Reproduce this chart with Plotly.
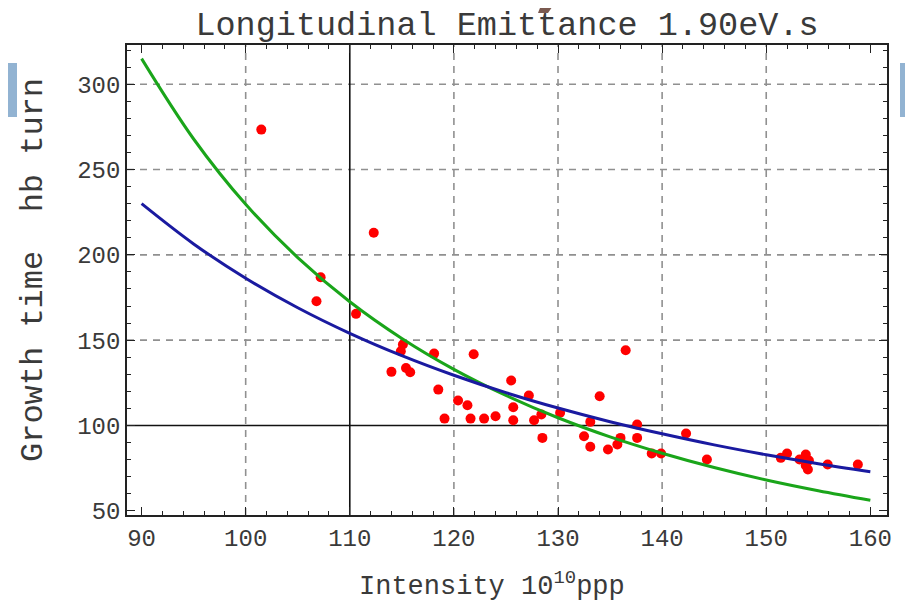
import plotly.graph_objects as go

# Measured data points (intensity, growth time)
intensity = [101.5, 106.8, 107.2, 110.6, 112.3, 114.0, 114.9, 115.1, 115.4, 115.8,
             118.1, 118.5, 119.1, 120.4, 121.3, 121.6, 121.9, 122.9, 124.0, 125.5,
             125.7, 125.7, 127.2, 127.7, 128.4, 128.5, 130.2, 132.5, 133.1, 133.1,
             134.0, 134.8, 135.7, 136.0, 136.5, 137.6, 137.6, 139.0, 139.9, 142.3,
             144.3, 151.4, 152.0, 153.2, 153.8, 153.8, 154.0, 154.1, 155.9, 158.8]
growth = [273.4, 172.8, 186.9, 165.4, 212.9, 131.4, 143.5, 147.4, 133.7, 131.2,
          142.1, 121.0, 104.0, 114.6, 111.8, 104.0, 141.7, 104.0, 105.4, 126.3,
          110.7, 103.0, 117.5, 103.0, 106.4, 92.7, 107.4, 93.7, 102.1, 87.5,
          117.1, 85.9, 88.8, 92.7, 144.1, 100.5, 92.7, 83.5, 83.5, 95.3,
          80.0, 81.0, 83.5, 80.0, 82.9, 76.5, 74.2, 79.4, 77.1, 77.1]

# Fitted curves
curve_x = [90, 95, 100, 105, 110, 115, 120, 125, 130, 135, 140, 145, 150, 155, 160]
green_fit = [315.0, 267.9, 229.6, 198.4, 172.5, 151.0, 132.9, 117.6, 104.5, 93.3,
             83.7, 75.3, 68.0, 61.7, 56.1]
blue_fit = [230.0, 206.4, 186.3, 169.0, 154.0, 140.9, 129.4, 119.2, 110.2, 102.2,
            95.1, 88.6, 82.8, 77.5, 72.8]

x_grid = [100, 120, 130, 140, 150]
y_grid = [150, 200, 250, 300]
x_axis_at = 110
y_axis_at = 100

title_text = "Longitudinal Emittance 1.90eV.s"
x_title = "Intensity 10<sup>10</sup>ppp"
y_title = "Growth time  hb turn"

MONO = "Liberation Mono"
TXT = "#3a3a3a"

fig = go.Figure()
fig.add_trace(go.Scatter(x=intensity, y=growth, mode="markers",
                         marker=dict(color="#ff0000", size=10), showlegend=False))
fig.add_trace(go.Scatter(x=curve_x, y=green_fit, mode="lines", line_shape="spline",
                         line=dict(color="#1aa51a", width=3), showlegend=False))
fig.add_trace(go.Scatter(x=curve_x, y=blue_fit, mode="lines", line_shape="spline",
                         line=dict(color="#1a1aa0", width=3), showlegend=False))

for gx in x_grid:
    fig.add_shape(type="line", xref="x", yref="paper", x0=gx, x1=gx, y0=0, y1=1,
                  line=dict(color="#909090", width=1.6, dash="7px,6px"), layer="below")
for gy in y_grid:
    fig.add_shape(type="line", xref="paper", yref="y", x0=0, x1=1, y0=gy, y1=gy,
                  line=dict(color="#909090", width=1.6, dash="7px,6px"), layer="below")
fig.add_shape(type="line", xref="x", yref="paper", x0=x_axis_at, x1=x_axis_at, y0=0, y1=1,
              line=dict(color="#111111", width=1.6), layer="below")
fig.add_shape(type="line", xref="paper", yref="y", x0=0, x1=1, y0=y_axis_at, y1=y_axis_at,
              line=dict(color="#111111", width=1.6), layer="below")

# helpers: page pixel -> paper coordinate (plot area on page: 127..887 x 45..515 px)
def px_x(p):
    return (p - 127) / 760.0

def px_y(p):
    return (515 - p) / 470.0

# decorative slide fragments around the chart
fig.add_shape(type="rect", xref="paper", yref="paper", x0=px_x(0), x1=px_x(17),
              y0=px_y(117), y1=px_y(63), fillcolor="#92b3d2", line_width=0)
fig.add_shape(type="rect", xref="paper", yref="paper", x0=px_x(900), x1=px_x(913),
              y0=px_y(117), y1=px_y(63), fillcolor="#92b3d2", line_width=0)
fig.add_shape(type="path", xref="paper", yref="paper",
              path="M %f %f L %f %f L %f %f L %f %f Z" % (
                  px_x(543), px_y(0), px_x(557), px_y(0), px_x(548), px_y(13), px_x(538), px_y(13)),
              fillcolor="#7b5a50", line_width=0)

# axis titles as annotations
fig.add_annotation(text=x_title, xref="paper", yref="paper", x=px_x(492), y=px_y(584),
                   xanchor="center", yanchor="middle", showarrow=False,
                   font=dict(family=MONO, size=27, color=TXT))
fig.add_annotation(text=y_title, xref="paper", yref="paper", x=px_x(33), y=px_y(270),
                   xanchor="center", yanchor="middle", showarrow=False, textangle=-90,
                   font=dict(family=MONO, size=32, color=TXT))

axis_common = dict(showgrid=False, zeroline=False, showline=True, linecolor="#222222",
                   linewidth=1.5, mirror="allticks", ticks="inside", ticklen=8,
                   tickwidth=1.3, tickcolor="#222222", automargin=False,
                   tickfont=dict(family=MONO, size=24, color=TXT))

fig.update_xaxes(range=[88.6, 161.6], tick0=90, dtick=10,
                 minor=dict(dtick=2, ticks="inside", ticklen=4, tickcolor="#222222"),
                 **axis_common)
fig.update_yaxes(range=[47.5, 323], tick0=50, dtick=50,
                 minor=dict(dtick=10, ticks="inside", ticklen=4, tickcolor="#222222"),
                 **axis_common)

# page body adds an 8 px offset; margins compensate so the plot area lands at 127..887 x 45..515
fig.update_layout(
    width=913, height=601,
    margin=dict(l=119, r=34, t=37, b=94),
    paper_bgcolor="white", plot_bgcolor="white",
    title=dict(text=title_text, x=0.5, xref="paper",
               y=1 - 15 / 601, yanchor="middle",
               font=dict(family=MONO, size=33.5, color=TXT)),
)

fig.write_html("out.html")
